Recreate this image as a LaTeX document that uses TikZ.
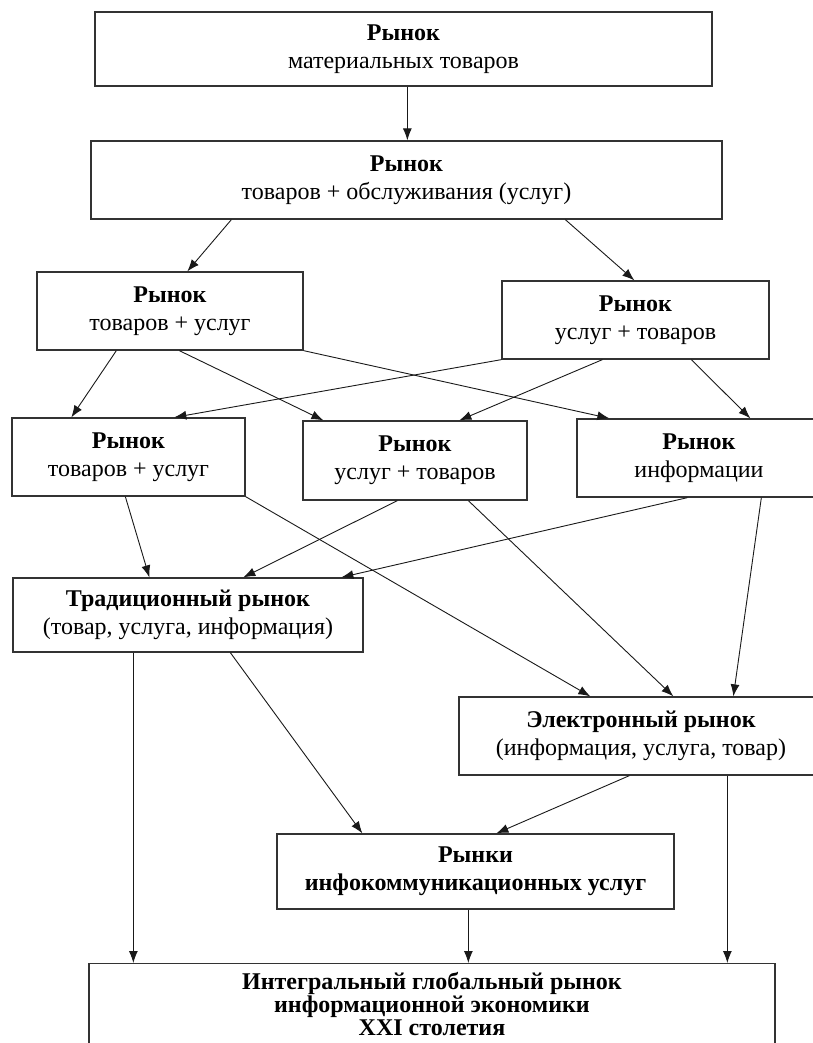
\documentclass[tikz,border=0pt]{standalone}
\usepackage{fontspec}
\setmainfont{Liberation Serif}
\usetikzlibrary{arrows.meta}
\begin{document}
\begin{tikzpicture}[x=1pt,y=-1pt,
  market/.style={draw=black!80,line width=1.3pt,fill=white,align=center,inner sep=0pt,
    font=\fontsize{24}{28}\selectfont},
  link/.style={-{Latex[length=12pt,width=9pt]},line width=0.9pt,black!90}]
  \path[use as bounding box,clip] (0,0) rectangle (813,1043);
  \node[market,minimum width=617pt,minimum height=74pt] (mat) at (403.5,49) {\textbf{Рынок}\\материальных товаров};
  \node[market,minimum width=631pt,minimum height=78pt] (svc) at (406.5,180) {\textbf{Рынок}\\товаров + обслуживания (услуг)};
  \node[market,minimum width=266pt,minimum height=78pt] (gs1) at (170,311) {\textbf{Рынок}\\товаров + услуг};
  \node[market,minimum width=267pt,minimum height=78pt] (sg1) at (635.5,320) {\textbf{Рынок}\\услуг + товаров};
  \node[market,minimum width=233pt,minimum height=78pt] (gs2) at (128.5,457) {\textbf{Рынок}\\товаров + услуг};
  \node[market,minimum width=224pt,minimum height=79pt] (sg2) at (415,460.5) {\textbf{Рынок}\\услуг + товаров};
  \node[market,minimum width=244pt,minimum height=78pt] (info) at (699,458) {\textbf{Рынок}\\информации};
  \node[market,minimum width=350pt,minimum height=74pt] (trad) at (188,615) {\textbf{Традиционный рынок}\\(товар, услуга, информация)};
  \node[market,minimum width=364pt,minimum height=78pt] (elec) at (641,736) {\textbf{Электронный рынок}\\(информация, услуга, товар)};
  \node[market,minimum width=397pt,minimum height=75pt] (ict) at (475.5,871.5) {\textbf{Рынки}\\\textbf{инфокоммуникационных услуг}};
  \node[market,minimum width=686pt,inner ysep=9pt,anchor=north,font=\fontsize{24}{23}\selectfont\bfseries] (glob) at (432,963)
    {Интегральный глобальный рынок\\информационной экономики\\XXI столетия};
  \draw[link] ([xshift=313pt]mat.south west) -- ([xshift=317pt]svc.north west);
  \draw[link] ([xshift=141pt]svc.south west) -- ([xshift=151pt]gs1.north west);
  \draw[link] ([xshift=475pt]svc.south west) -- ([xshift=133pt]sg1.north west);
  \draw[link] ([xshift=80pt]gs1.south west) -- ([xshift=60pt]gs2.north west);
  \draw[link] ([xshift=143pt]gs1.south west) -- ([xshift=21pt]sg2.north west);
  \draw[link] (gs1.south east) -- ([xshift=33pt]info.north west);
  \draw[link] (sg1.south west) -- ([xshift=163pt]gs2.north west);
  \draw[link] ([xshift=101pt]sg1.south west) -- ([xshift=157pt]sg2.north west);
  \draw[link] ([xshift=190pt]sg1.south west) -- ([xshift=174pt]info.north west);
  \draw[link] ([xshift=114pt]gs2.south west) -- ([xshift=137pt]trad.north west);
  \draw[link] (gs2.south east) -- ([xshift=132pt]elec.north west);
  \draw[link] ([xshift=95pt]sg2.south west) -- ([xshift=231pt]trad.north west);
  \draw[link] ([xshift=166pt]sg2.south west) -- ([xshift=215pt]elec.north west);
  \draw[link] ([xshift=111pt]info.south west) -- ([xshift=329pt]trad.north west);
  \draw[link] ([xshift=185pt]info.south west) -- ([xshift=275pt]elec.north west);
  \draw[link] ([xshift=218pt]trad.south west) -- ([xshift=86pt]ict.north west);
  \draw[link] ([xshift=121pt]trad.south west) -- ([xshift=45pt]glob.north west);
  \draw[link] ([xshift=171pt]elec.south west) -- ([xshift=220pt]ict.north west);
  \draw[link] ([xshift=269pt]elec.south west) -- ([xshift=639pt]glob.north west);
  \draw[link] ([xshift=192pt]ict.south west) -- ([xshift=380pt]glob.north west);
\end{tikzpicture}
\end{document}
